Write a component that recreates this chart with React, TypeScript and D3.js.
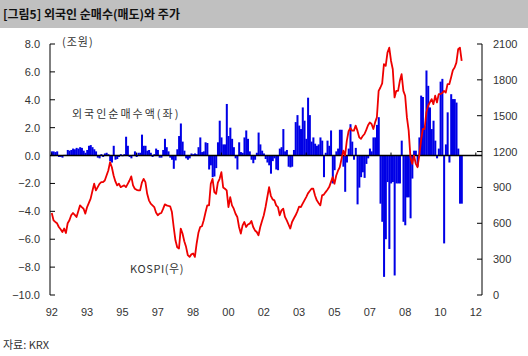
import React from 'react';
import * as d3 from 'd3';

// Monthly data starting 1992.01
const xTickLabels = ["92", "93", "95", "97", "98", "00", "02", "03", "05", "07", "08", "10", "12"];
const xTickEveryMonths = 20;
const zeroLineTickMonths = [0, 48, 96, 144, 192, 240];
const leftTicks = [8, 6, 4, 2, 0, -2, -4, -6, -8, -10];
const rightTicks = [2100, 1800, 1500, 1200, 900, 600, 300, 0];

// 외국인 순매수액 (조원), monthly
const foreignNet = [
  0.3, 0.3, 0.25, 0.3, -0.1, -0.1, -0.15, 0.05, 0.05, 0.4,
  0.35, 0.4, 0.5, 0.45, 0.55, 0.5, 0.6, 0.55, 0.35, 0.2,
  0.4, 0.7, 0.75, 0.6, 0.45, 0.3, -0.15, -0.2, 0.1, -0.1,
  0.15, 0.2, 0.1, -0.4, -0.5, 0.7, -0.3, -0.25, -0.1, 0.1,
  -0.05, 0.1, 1.35, 0.7, -0.1, -0.2, 0.05, 0.3, -0.1, 0.2,
  0.2, 1.5, 0.7, 0.7, 0.35, 0.4, 0.2, -0.1, 0.1, 0.5,
  0.4, -0.15, -0.15, 0.4, 1.2, 0.6, 0.3, -0.15, -0.3, -0.95,
  -0.35, 0.45, 1.4, 2.3, 1.0, 0.35, -0.2, -0.3, -0.2, 0.15,
  0.1, 0.15, 0.1, 0.6, 1.3, 0.25, 0.3, 0.95, 0.9, -1.0,
  -0.7, -1.55, -1.5, -0.9, 0.95, 2.5, 1.3, 0.8, 0.8, 3.7,
  1.4, 2.0, 1.2, 0.6, -0.2, -1.0, 0.95, 0.25, 0.2, 1.3,
  1.8, 1.2, 0.3, -0.3, -0.55, -0.3, 0.2, 1.65, 0.8, 0.35,
  0.15, -0.25, -0.5, -0.7, -1.3, -0.4, -0.2, -1.0, -1.05, 0.5,
  0.6, 1.9, 0.3, 0.4, -0.8, -0.85, -0.8, 0.4, 2.4, 2.9,
  2.15, 1.9, 3.45, 2.5, 1.2, 4.15, 2.9, 1.0, 1.3, 0.85,
  0.7, 0.8, 1.3, 1.07, -1.55, 0.2, 1.07, 0.7, 1.8, -2.0,
  -1.05, 0.3, 0.5, 1.85, 1.85, -0.8, -2.6, -0.5, 0.5, 2.25,
  1.0, -0.3, 0.55, -3.5, -2.3, -1.55, -1.2, -1.6, -0.6, -0.2,
  0.5, 0.3, 1.3, 1.3, 2.2, 2.75, -3.45, -4.75, -8.7, -6.0,
  -1.9, -6.7, -2.0, -1.9, -8.6, -2.0, -2.0, -2.0, 1.07, -4.75,
  -5.0, -3.0, -3.0, -4.5, -1.65, 0.35, 0.35, -0.8, 1.3, 4.3,
  4.2, 2.1, 6.1, 5.0, 3.45, 1.9, 2.5, 1.07, -0.2, 0.5,
  5.3, 5.5, -6.3, 0.8, 3.1, -0.5, 4.4, 4.05, 4.05, 3.8,
  0.5, -3.45, -3.45,
];

// KOSPI, monthly
const kospi = [
  686, 625, 611, 600, 569, 550, 527, 556, 519, 600,
  625, 667, 686, 670, 653, 700, 750, 735, 722, 681,
  736, 770, 806, 870, 931, 875, 903, 930, 944, 944,
  958, 1000, 1042, 1111, 1069, 1000, 950, 917, 931, 903,
  910, 917, 903, 930, 958, 992, 917, 889, 880, 875,
  875, 940, 972, 944, 847, 792, 764, 750, 736, 690,
  667, 681, 686, 720, 758, 750, 745, 742, 694, 569,
  458, 400, 389, 556, 514, 450, 403, 333, 319, 340,
  347, 319, 431, 520, 569, 575, 625, 690, 750, 750,
  931, 972, 861, 847, 940, 972, 1028, 900, 889, 875,
  736, 819, 750, 722, 680, 653, 569, 514, 583, 611,
  569, 590, 597, 619, 569, 540, 527, 500, 569, 620,
  667, 736, 820, 903, 830, 800, 792, 750, 736, 667,
  708, 722, 653, 625, 590, 556, 611, 640, 667, 700,
  740, 736, 764, 792, 819, 850, 870, 889, 889, 833,
  792, 770, 750, 833, 840, 861, 880, 903, 944, 986,
  931, 1000, 1040, 1069, 1139, 1208, 1167, 1292, 1370, 1397,
  1375, 1375, 1417, 1375, 1319, 1306, 1330, 1347, 1381, 1420,
  1444, 1431, 1389, 1444, 1486, 1708, 1736, 1770, 1931, 1917,
  2028, 2069, 1960, 1889, 1653, 1708, 1708, 1792, 1847, 1708,
  1667, 1486, 1375, 1153, 1097, 1167, 1100, 1069, 1167, 1292,
  1389, 1389, 1528, 1583, 1611, 1639, 1597, 1667, 1611, 1681,
  1681, 1690, 1708, 1694, 1764, 1764, 1820, 1881, 1903, 1944,
  2056, 2069, 1958,
];

const NUM_FONT = "'Liberation Sans', Arial, 'Noto Sans CJK KR', sans-serif";
const KR_FONT = "'Noto Sans CJK KR', 'Liberation Sans', sans-serif";
const TEXT = '#333333';

export default function App() {
  const W = 528;
  const H = 356;
  const left = 50;
  const right = 482;
  const top = 44;
  const bottom = 295;

  const x = d3.scaleLinear().domain([-1, 243.5]).range([left, right]);
  const yL = d3.scaleLinear().domain([-10, 8]).range([bottom, top]);
  const yR = d3.scaleLinear().domain([0, 2100]).range([bottom, top]);
  const step = x(1) - x(0);

  const linePath = d3
    .line<number>()
    .x((_, i) => x(i))
    .y((d) => yR(d))(kospi) as string;

  const y0 = yL(0);

  return (
    <svg
      width={W}
      height={H}
      style={{ position: 'absolute', left: 0, top: 0, background: '#fff' }}
    >
      {/* title bar */}
      <rect x={0} y={0} width={W} height={28} fill="#c0c0c0" />
      <text x={3} y={19} fontFamily={KR_FONT} fontSize={12} fontWeight="bold" fill="#111">
        [그림5] 외국인 순매수(매도)와 주가
      </text>

      {/* bars */}
      <g>
        {foreignNet.map((v, i) => (
          <rect
            key={i}
            x={x(i) - step / 2}
            width={step + 0.25}
            y={Math.min(yL(v), y0)}
            height={Math.abs(yL(v) - y0)}
            fill="#0000e6"
          />
        ))}
      </g>

      {/* zero line */}
      <line x1={left} x2={right} y1={y0} y2={y0} stroke="#000" strokeWidth={1.5} />
      {zeroLineTickMonths.map((m) => (
        <line key={m} x1={x(m)} x2={x(m)} y1={y0} y2={y0 - 3} stroke="#000" strokeWidth={1} />
      ))}

      {/* KOSPI line */}
      <path d={linePath} fill="none" stroke="#ee0000" strokeWidth={1.8} strokeLinejoin="round" />

      {/* left axis */}
      <line x1={left} x2={left} y1={top} y2={bottom} stroke="#000" strokeWidth={1} />
      {leftTicks.map((t) => (
        <g key={t}>
          <line x1={left} x2={left + 5} y1={yL(t)} y2={yL(t)} stroke="#000" strokeWidth={1} />
          <text
            x={40}
            y={yL(t) + 4}
            textAnchor="end"
            fontFamily={NUM_FONT}
            fontSize={11}
            fill={TEXT}
          >
            {t < 0 ? '\u2212' + Math.abs(t).toFixed(1) : t.toFixed(1)}
          </text>
        </g>
      ))}

      {/* right axis */}
      <line x1={right} x2={right} y1={top} y2={bottom} stroke="#000" strokeWidth={1} />
      {rightTicks.map((t) => (
        <g key={t}>
          <line x1={right - 5} x2={right} y1={yR(t)} y2={yR(t)} stroke="#000" strokeWidth={1} />
          <text x={493} y={yR(t) + 4} fontFamily={NUM_FONT} fontSize={11} fill={TEXT}>
            {t}
          </text>
        </g>
      ))}

      {/* x labels */}
      {xTickLabels.map((lab, i) => (
        <text
          key={lab + i}
          x={x(i * xTickEveryMonths)}
          y={316}
          textAnchor="middle"
          fontFamily={NUM_FONT}
          fontSize={11}
          fill={TEXT}
        >
          {lab}
        </text>
      ))}

      {/* annotations */}
      <text x={62} y={46} fontFamily={KR_FONT} fontSize={11} fill={TEXT} letterSpacing={1}>
        (조원)
      </text>
      <text x={72} y={118} fontFamily={KR_FONT} fontSize={11} fill={TEXT} letterSpacing={2}>
        외국인순매수액(좌)
      </text>
      <text x={130} y={273} fontFamily={KR_FONT} fontSize={11} fill={TEXT} letterSpacing={0.6}>
        KOSPI(우)
      </text>
      <text x={3} y={349} fontFamily={KR_FONT} fontSize={11} fill={TEXT}>
        자료: KRX
      </text>
    </svg>
  );
}
